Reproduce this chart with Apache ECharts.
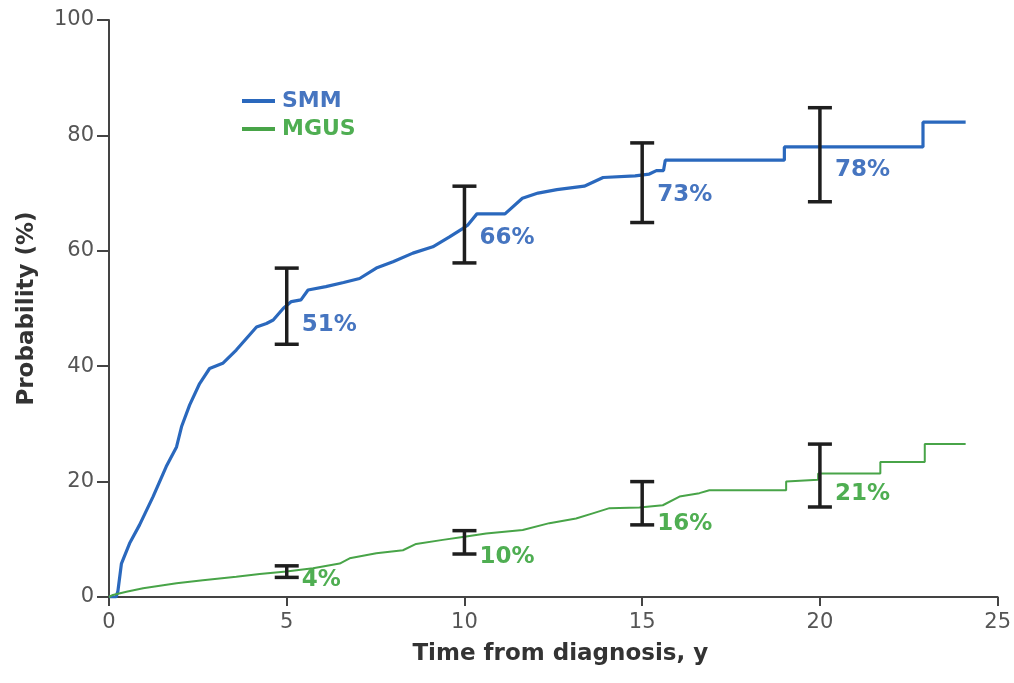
<!DOCTYPE html>
<html>
<head>
<meta charset="utf-8">
<script src="https://cdn.jsdelivr.net/npm/echarts@6/dist/echarts.min.js"></script>
<style>
html,body{margin:0;padding:0;background:#fff;}
#chart{width:1014px;height:683px;}
</style>
</head>
<body>
<div id="chart"></div>
<script>
// ---- data ----
const seriesNames = ['SMM', 'MGUS'];

const smmTime = [0, 0.2, 0.25, 0.35, 0.58, 0.86, 1.24, 1.61, 1.9, 2.04, 2.27, 2.55, 2.83, 3.2, 3.58, 4.15, 4.43, 4.62, 4.9, 5.13, 5.4, 5.6, 6.1, 6.6, 7.05, 7.52, 7.99, 8.55, 9.11, 9.58, 9.96, 10.1, 10.35, 11.14, 11.63, 12.07, 12.6, 13.37, 13.9, 14.8, 15.2, 15.4, 15.6, 15.65, 19.0, 19.0, 22.9, 22.9, 24.1];
const smmProb = [0, 0, 1, 5.8, 9.3, 12.5, 17.4, 22.6, 26, 29.5, 33.3, 37, 39.6, 40.5, 42.8, 46.8, 47.4, 48, 50, 51.2, 51.5, 53.2, 53.8, 54.5, 55.2, 57, 58.1, 59.6, 60.7, 62.4, 63.9, 64.5, 66.4, 66.4, 69.1, 70, 70.6, 71.2, 72.7, 73, 73.3, 73.9, 73.9, 75.7, 75.7, 78, 78, 82.3, 82.3];

const mgusTime = [0, 0.11, 0.49, 0.96, 1.9, 2.64, 3.58, 4.24, 4.99, 5.74, 6.49, 6.77, 7.52, 8.27, 8.64, 9.39, 10, 10.61, 11.64, 12.39, 13.14, 13.61, 14.08, 14.92, 15.58, 16.05, 16.61, 16.89, 19.05, 19.05, 19.95, 19.95, 21.7, 21.7, 22.95, 22.95, 24.1];
const mgusProb = [0, 0.35, 0.9, 1.5, 2.4, 2.9, 3.5, 4.0, 4.4, 5.0, 5.8, 6.7, 7.6, 8.1, 9.2, 9.9, 10.45, 11.0, 11.6, 12.8, 13.6, 14.5, 15.4, 15.5, 15.9, 17.4, 18, 18.5, 18.5, 20, 20.3, 21.4, 21.4, 23.4, 23.4, 26.5, 26.5];

const ciYears = [5, 10, 15, 20];
const smmLow = [43.8, 57.9, 64.9, 68.5];
const smmHigh = [57, 71.2, 78.7, 84.8];
const smmLabelY = [47.1, 62.2, 69.7, 74];
const smmLabels = ['51%', '66%', '73%', '78%'];
const mgusLow = [3.4, 7.45, 12.5, 15.6];
const mgusHigh = [5.4, 11.5, 20, 26.5];
const mgusLabelY = [2.9, 6.9, 12.7, 17.9];
const mgusLabels = ['4%', '10%', '16%', '21%'];

const xTicks = [0, 5, 10, 15, 20, 25];
const yTicks = [0, 20, 40, 60, 80, 100];

// ---- styles ----
const FONT = 'DejaVu Sans';
const SMM_LINE = '#2a68bd';
const SMM_TEXT = '#4675c0';
const MGUS_LINE = '#48a448';
const MGUS_TEXT = '#4fae52';
const AXIS = '#444';

const zip = (a, b) => a.map((v, i) => [v, b[i]]);

function errRender(labels, color) {
  return function (params, api) {
    const i = params.dataIndex;
    const x = api.value(0);
    const top = api.coord([x, api.value(2)]);
    const bot = api.coord([x, api.value(1)]);
    const lab = api.coord([x, api.value(3)]);
    const hw = 12;
    const st = { stroke: '#1e1e1e', lineWidth: 3.5 };
    return {
      type: 'group',
      children: [
        { type: 'line', shape: { x1: top[0], y1: top[1], x2: bot[0], y2: bot[1] }, style: st },
        { type: 'line', shape: { x1: top[0] - hw, y1: top[1], x2: top[0] + hw, y2: top[1] }, style: st },
        { type: 'line', shape: { x1: bot[0] - hw, y1: bot[1], x2: bot[0] + hw, y2: bot[1] }, style: st },
        { type: 'text', x: lab[0] + 15, y: lab[1],
          style: { text: labels[i], fill: color, fontSize: 23, fontFamily: FONT, fontWeight: 'bold',
                   align: 'left', verticalAlign: 'middle' } }
      ]
    };
  };
}

const chart = echarts.init(document.getElementById('chart'), null, { renderer: 'canvas' });
chart.setOption({
  backgroundColor: '#fff',
  animation: false,
  grid: { left: 109, right: 16, top: 20, bottom: 86, containLabel: false },
  legend: {
    orient: 'vertical',
    left: 237, top: 85,
    itemWidth: 33, itemHeight: 4, itemGap: 6,
    icon: 'rect',
    data: [
      { name: seriesNames[0], textStyle: { color: SMM_TEXT } },
      { name: seriesNames[1], textStyle: { color: MGUS_TEXT } }
    ],
    textStyle: { fontSize: 22, fontFamily: FONT, fontWeight: 'bold', padding: [0, 0, 0, 2] }
  },
  xAxis: {
    type: 'value', min: xTicks[0], max: xTicks[xTicks.length - 1], interval: 5,
    name: 'Time from diagnosis, y', nameLocation: 'middle', nameGap: 46,
    nameTextStyle: { fontSize: 23, fontFamily: FONT, fontWeight: 'bold', color: '#333', padding: [0, 0, 0, 14] },
    axisLine: { lineStyle: { color: AXIS, width: 2 } },
    axisTick: { length: 9, lineStyle: { color: AXIS, width: 2 } },
    axisLabel: { fontSize: 21, fontFamily: FONT, color: '#555', margin: 15 },
    splitLine: { show: false }
  },
  yAxis: {
    type: 'value', min: yTicks[0], max: yTicks[yTicks.length - 1], interval: 20,
    name: 'Probability (%)', nameLocation: 'middle', nameGap: 70,
    nameTextStyle: { fontSize: 23, fontFamily: FONT, fontWeight: 'bold', color: '#333' },
    axisLine: { show: true, lineStyle: { color: AXIS, width: 2 } },
    axisTick: { show: true, length: 12, lineStyle: { color: AXIS, width: 2 } },
    axisLabel: { fontSize: 21, fontFamily: FONT, color: '#555', margin: 15 },
    splitLine: { show: false }
  },
  series: [
    {
      name: seriesNames[0], type: 'line', data: zip(smmTime, smmProb),
      showSymbol: false, symbol: 'none',
      lineStyle: { color: SMM_LINE, width: 3.2 }, itemStyle: { color: SMM_LINE }, z: 3
    },
    {
      name: seriesNames[1], type: 'line', data: zip(mgusTime, mgusProb),
      showSymbol: false, symbol: 'none',
      lineStyle: { color: MGUS_LINE, width: 2 }, itemStyle: { color: MGUS_LINE }, z: 3
    },
    {
      type: 'custom', clip: false, z: 5,
      data: ciYears.map((t, i) => [t, smmLow[i], smmHigh[i], smmLabelY[i]]),
      renderItem: errRender(smmLabels, SMM_TEXT)
    },
    {
      type: 'custom', clip: false, z: 5,
      data: ciYears.map((t, i) => [t, mgusLow[i], mgusHigh[i], mgusLabelY[i]]),
      renderItem: errRender(mgusLabels, MGUS_TEXT)
    }
  ]
});
</script>
</body>
</html>
